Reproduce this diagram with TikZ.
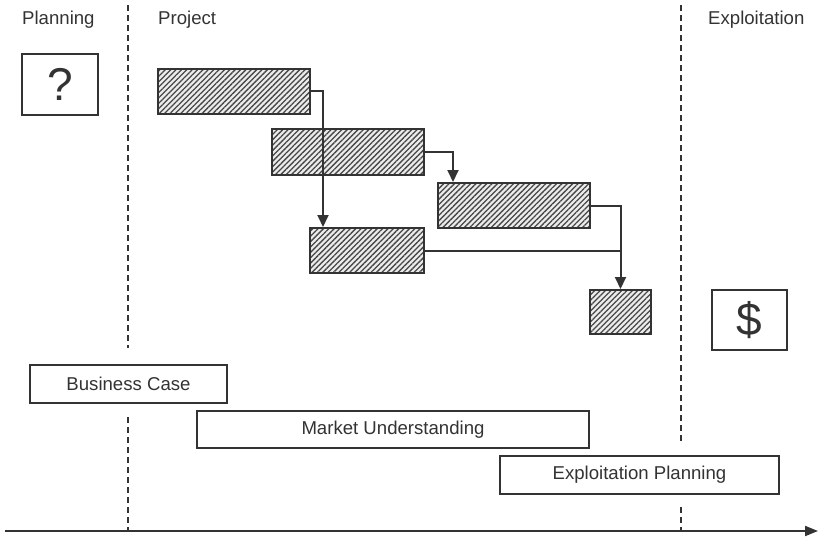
\documentclass[tikz,border=0pt]{standalone}
\usepackage{fontspec}
\setmainfont{Liberation Sans}
\usetikzlibrary{arrows.meta,patterns.meta}
\definecolor{ink}{HTML}{333333}
\tikzset{
  lbl/.style={font=\fontsize{18.6}{21}\selectfont, text=ink, inner sep=0pt},
  bar/.style={draw=ink, line width=2pt, inner sep=0pt, anchor=north west,
    preaction={fill=gray!15},
    pattern={Lines[angle=45,distance=3.8pt,line width=1.3pt]}, pattern color=ink!90},
  plainbox/.style={draw=ink, line width=2pt, fill=white, inner sep=0pt, anchor=north west,
    font=\fontsize{18.6}{21}\selectfont, text=ink},
  symbox/.style={plainbox, font=\fontsize{46}{48}\selectfont},
  arr/.style={draw=ink, line width=2pt, -{Triangle[length=12pt,width=11pt]}},
  conn/.style={draw=ink, line width=2pt},
  divider/.style={draw=ink, line width=1.6pt, dash pattern=on 6pt off 4pt},
}
\begin{document}
\begin{tikzpicture}[x=1pt,y=-1pt]
\useasboundingbox (0,0) rectangle (820,536);
% headings
\node[lbl, anchor=base west] (hplan) at (22,24) {Planning};
\node[lbl, anchor=base west] (hproj) at (158,24) {Project};
\node[lbl, anchor=base west] (hexpl) at (708,24) {Exploitation};
% dividers
\coordinate (d1a) at (128,5);   \coordinate (d1b) at (128,348);
\coordinate (d1c) at (128,417); \coordinate (d1d) at (128,531);
\coordinate (d2a) at (681,5);   \coordinate (d2b) at (681,441);
\coordinate (d2c) at (681,507); \coordinate (d2d) at (681,531);
\draw[divider] (d1a) -- (d1b);
\draw[divider] (d1c) -- (d1d);
\draw[divider] (d2a) -- (d2b);
\draw[divider] (d2c) -- (d2d);
% symbol boxes
\node[symbox, minimum width=76pt, minimum height=61pt] (q) at (21,53) {?};
\node[symbox, minimum width=75pt, minimum height=60pt] (dol) at (711,289) {\$};
% bars
\node[bar, minimum width=152pt, minimum height=45pt] (b1) at (157,68) {};
\node[bar, minimum width=152pt, minimum height=46pt] (b2) at (271,128) {};
\node[bar, minimum width=152pt, minimum height=45pt] (b3) at (437,182) {};
\node[bar, minimum width=114pt, minimum height=45pt] (b4) at (309,227) {};
\node[bar, minimum width=61pt, minimum height=44pt] (b5) at (589,289) {};
% connectors
\draw[arr] (b1.east) -| ([xshift=14pt]b4.north west);
\draw[arr] (b2.east) -| ([xshift=16pt]b3.north west);
\draw[arr] (b3.east) -| (b5.north);
\draw[conn] (b4.east) -- (b4.east -| b5.north);
% activity boxes
\node[plainbox, minimum width=197pt, minimum height=38pt] (bc) at (29,364) {Business Case};
\node[plainbox, minimum width=392pt, minimum height=37pt] (mu) at (196,410) {Market Understanding};
\node[plainbox, minimum width=279pt, minimum height=38pt] (ep) at (499,455) {Exploitation Planning};
% time axis
\coordinate (ax0) at (5,531);
\coordinate (ax1) at (818,531);
\draw[draw=ink, line width=2pt, -{Triangle[length=13pt,width=10pt]}] (ax0) -- (ax1);
\end{tikzpicture}
\end{document}
